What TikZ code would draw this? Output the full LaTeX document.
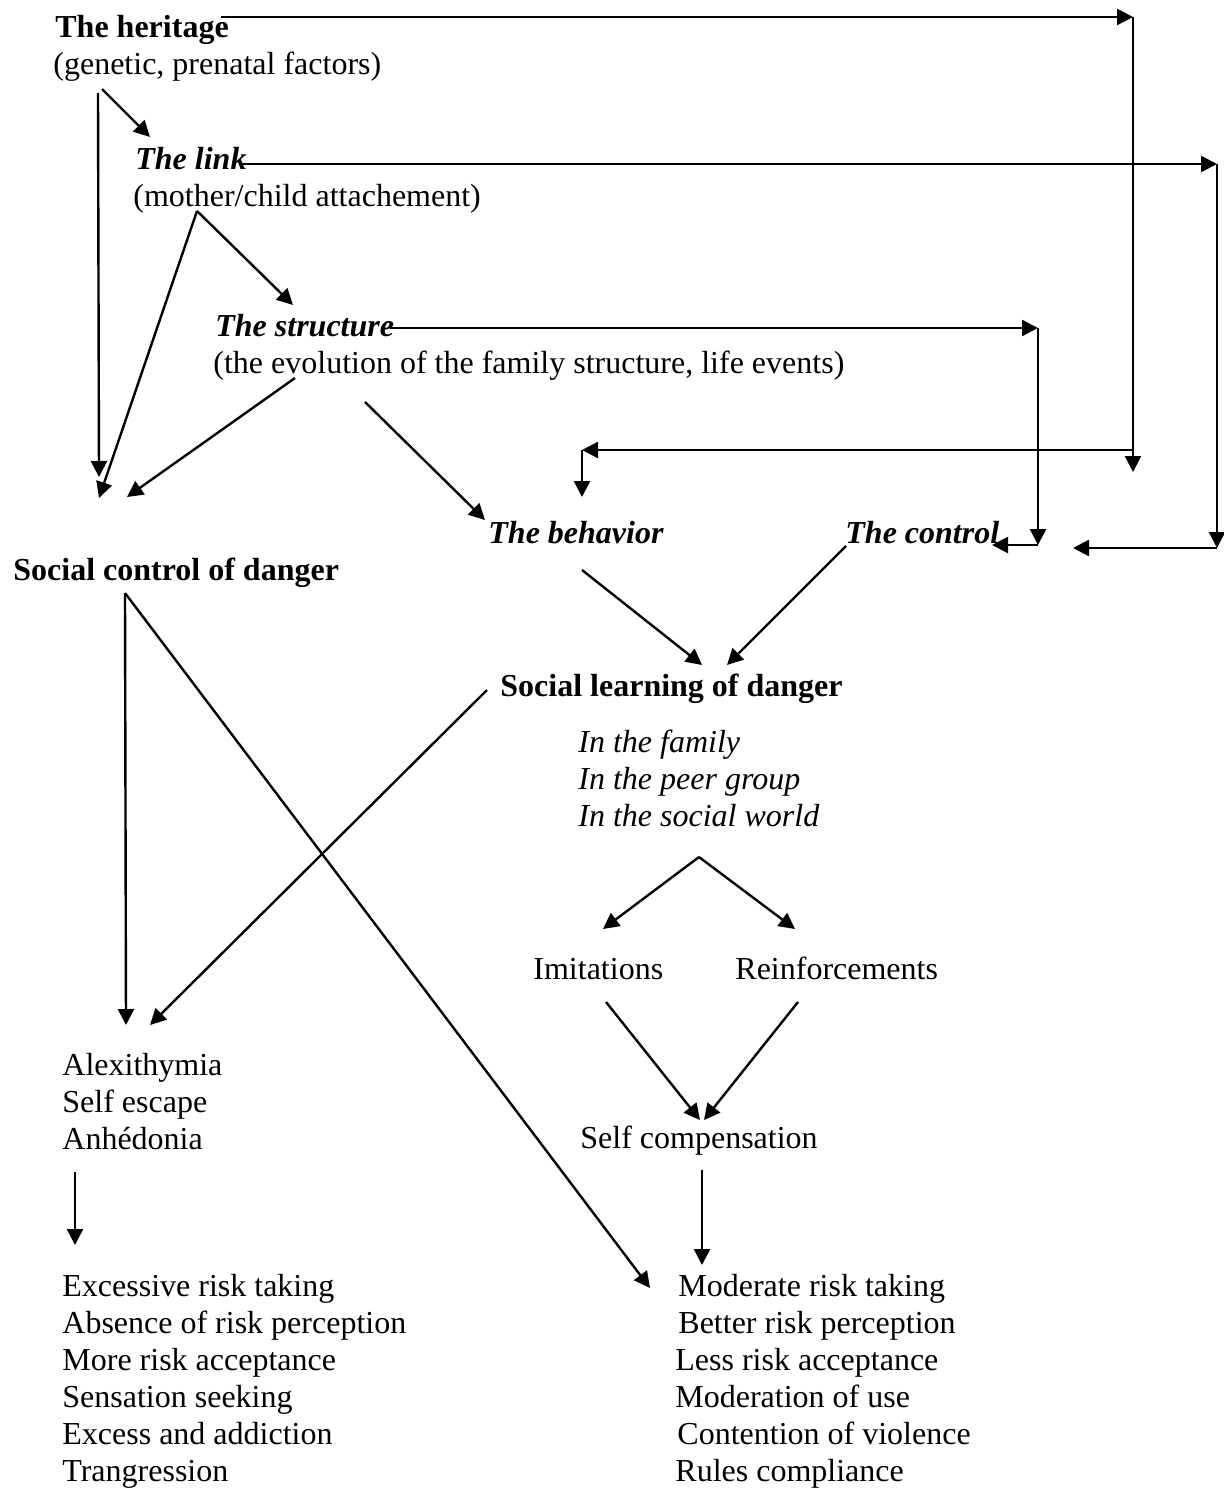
\documentclass[tikz,border=0pt]{standalone}
\usepackage{fontspec}
\setmainfont{Liberation Serif}
\usetikzlibrary{arrows.meta,calc,positioning}

\tikzset{
  txt/.style={anchor=base west, inner sep=0pt, font=\fontsize{16}{18.5}\selectfont},
  hd/.style={txt, font=\fontsize{16}{18.5}\selectfont\bfseries},
  hdit/.style={txt, font=\fontsize{16}{18.5}\selectfont\bfseries\itshape},
  itl/.style={txt, font=\fontsize{16}{18.5}\selectfont\itshape},
  arr/.style={-{Triangle[length=8pt,width=8pt]}, line width=1.2pt},
}

\begin{document}
\begin{tikzpicture}[x=0.5pt,y=-0.5pt]
  \useasboundingbox (0,0) rectangle (1224,1488);

  % the four factors
  \node[hd](heritage) at (55,37){The heritage};
  \node[txt](genetic) at (53,74){(genetic, prenatal factors)};
  \node[hdit](link) at (135,169){The link};
  \node[txt](mother) at (133,206){(mother/child attachement)};
  \node[hdit](structure) at (215,336){The structure};
  \node[txt](evolution) at (213,373){(the evolution of the family structure, life events)};
  \node[hdit](behavior) at (488,543){The behavior};
  \node[hdit](control) at (845,543){The control};

  \node[hd](socctrl) at (13,580){Social control of danger};
  \node[hd](soclearn) at (500,696){Social learning of danger};
  \foreach \txt [count=\i from 0] in {In the family, In the peer group, In the social world}
    \node[itl](place\i) at (578,752+37*\i){\txt};

  \node[txt](imit) at (533,979){Imitations};
  \node[txt](reinf) at (735,979){Reinforcements};
  \node[txt](selfcomp) at (580,1148){Self compensation};

  \foreach \txt [count=\i from 0] in {Alexithymia, Self escape, Anhédonia}
    \node[txt](alex\i) at (62,1075+37*\i){\txt};

  \foreach \txt [count=\i from 0] in {Excessive risk taking, Absence of risk perception,
      More risk acceptance, Sensation seeking, Excess and addiction, Trangression}
    \node[txt](excess\i) at (62,1296+37*\i){\txt};
  \foreach \txt/\dx [count=\i from 0] in {Moderate risk taking/678, Better risk perception/678,
      Less risk acceptance/675, Moderation of use/675, Contention of violence/677, Rules compliance/675}
    \node[txt](moderate\i) at (\dx,1296+37*\i){\txt};

  % corners of the long connectors
  \coordinate (hR) at (1133,17);
  \coordinate (hDown) at (1133,472);
  \coordinate (hMid) at (1133,450);
  \coordinate (bCorner) at (582,450);
  \coordinate (bTip) at (582,497);
  \coordinate (lR) at (1217,164);
  \coordinate (lDown) at (1217,548);
  \coordinate (lTip) at (1073,548);
  \coordinate (sR) at (1038,328);
  \coordinate (sDown) at (1038,545);
  \coordinate (sTip) at (992,545);

  % free ends of the short connectors
  \coordinate (gen0) at (98,93);
  \coordinate (gen1) at (102,89);
  \coordinate (mo0) at (197,211);
  \coordinate (ev0) at (295,378);
  \coordinate (ev1) at (365,402);
  \coordinate (beh0) at (582,570);
  \coordinate (ctl0) at (846,546);
  \coordinate (sl0) at (487,690);
  \coordinate (fam0) at (699,857);
  \coordinate (im0) at (606,1002);
  \coordinate (re0) at (798,1002);
  \coordinate (sc0) at (702,1170);
  \coordinate (scd0) at (125,593);
  \coordinate (an0) at (75,1172);

  \coordinate (tA) at (99,477);
  \coordinate (tB) at (99,498);
  \coordinate (tC) at (127,497);
  \coordinate (lk) at (150,137);
  \coordinate (st) at (293,305);
  \coordinate (bh) at (485,520);
  \coordinate (sl1) at (702,665);
  \coordinate (sl2) at (727,665);
  \coordinate (im1) at (603,929);
  \coordinate (re1) at (795,929);
  \coordinate (sc1) at (700,1120);
  \coordinate (sc2) at (704,1120);
  \coordinate (al1) at (126,1025);
  \coordinate (al2) at (150,1025);
  \coordinate (mr1) at (702,1265);
  \coordinate (mr2) at (650,1288);
  \coordinate (ex1) at (75,1245);

  % long connectors on the right
  \draw[arr] ([xshift=-4pt]heritage.east |- hR) -- (hR);
  \draw[arr] (hR) -- (hDown);
  \draw[arr] (hMid) -- (bCorner);
  \draw[arr] (bCorner) -- (bTip);
  \draw[arr] ([xshift=-3pt]link.east |- lR) -- (lR);
  \draw[arr] (lR) -- (lDown);
  \draw[arr] (lDown) -- (lTip);
  \draw[arr] ([xshift=-2pt]structure.east |- sR) -- (sR);
  \draw[arr] (sR) -- (sDown);
  \draw[arr] (sDown) -- (sTip);

  % short connectors
  \draw[arr] (gen0) -- (tA);
  \draw[arr] (gen1) -- (lk);
  \draw[arr] (mo0) -- (tB);
  \draw[arr] (mo0) -- (st);
  \draw[arr] (ev0) -- (tC);
  \draw[arr] (ev1) -- (bh);
  \draw[arr] (beh0) -- (sl1);
  \draw[arr] (ctl0) -- (sl2);
  \draw[arr] (sl0) -- (al2);
  \draw[arr] (scd0) -- (al1);
  \draw[arr] (scd0) -- (mr2);
  \draw[arr] (fam0) -- (im1);
  \draw[arr] (fam0) -- (re1);
  \draw[arr] (im0) -- (sc1);
  \draw[arr] (re0) -- (sc2);
  \draw[arr] (sc0) -- (mr1);
  \draw[arr] (an0) -- (ex1);
\end{tikzpicture}
\end{document}
